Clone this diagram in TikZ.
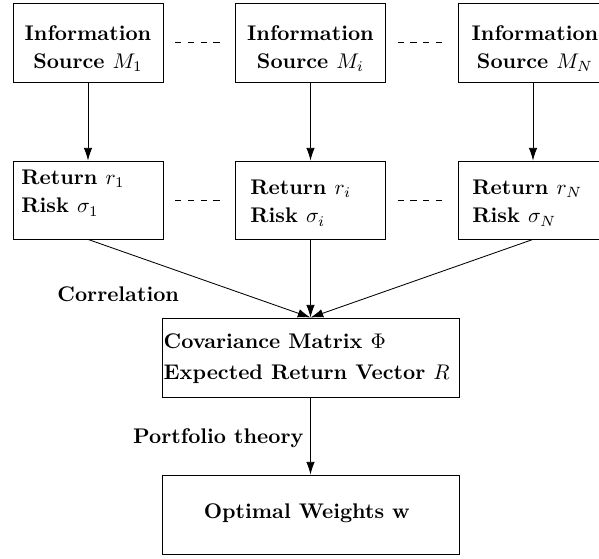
\documentclass[tikz,border=0pt]{standalone}
\usetikzlibrary{arrows.meta}
\begin{document}
\begin{tikzpicture}[x=0.472pt, y=-0.472pt,
  box/.style={draw, line width=0.4pt, minimum width=70.8pt, minimum height=37.3pt, inner sep=0pt},
  widebox/.style={box, minimum width=140.2pt},
  txt/.style={font=\bfseries, inner sep=0pt},
  link/.style={-{Latex[length=6pt,width=4pt]}, line width=0.4pt},
  gap/.style={dashed, line width=0.4pt, shorten <=5.5pt, shorten >=5.5pt}]
\useasboundingbox (0,0) rectangle (599,559);

% information sources
\node[box] (m1) at (88,42.5) {};
\node[box] (m2) at (310.5,42.5) {};
\node[box] (m3) at (533,42.5) {};
\node[txt, align=center] (m1t) at (88,48.5) {Information\\[1pt]Source $M_1$};
\node[txt, align=center] (m2t) at (310.5,48.5) {Information\\[1pt]Source $M_i$};
\node[txt, align=center] (m3t) at (535,48.5) {Information\\[1pt]Source $M_N$};

% return and risk of each source
\node[box, minimum height=36.8pt] (r1) at (88,200) {};
\node[box, minimum height=36.8pt] (r2) at (310.5,200) {};
\node[box, minimum height=36.8pt] (r3) at (533,200) {};
\node[txt, align=left, anchor=west] (r1t) at (21,193) {Return $r_1$\\[1.5pt]Risk $\sigma_1$};
\node[txt, align=left, anchor=west] (r2t) at (250,203) {Return $r_i$\\[1.5pt]Risk $\sigma_i$};
\node[txt, align=left, anchor=west] (r3t) at (472,203) {Return $r_N$\\[1.5pt]Risk $\sigma_N$};

% aggregated statistics and result
\node[widebox] (cov) at (310.5,357.5) {};
\node[txt, align=left, anchor=west] (covt) at (163.3,358.5) {Covariance Matrix $\Phi$\\[2.4pt]Expected Return Vector $R$};
\node[widebox] (opt) at (310.5,514.5) {};
\node[txt] (optt) at (307,513.7) {Optimal Weights $\mathbf{w}$};

% edge labels
\node[txt, anchor=base west] (corr) at (57,301.5) {Correlation};
\node[txt, anchor=base west] (port) at (132.7,443) {Portfolio theory};

% connectors
\draw[link] (m1) -- (r1);
\draw[link] (m2) -- (r2);
\draw[link] (m3) -- (r3);
\draw[link] (r1.south) -- (cov.north);
\draw[link] (r2.south) -- (cov.north);
\draw[link] (r3.south) -- (cov.north);
\draw[link] (cov) -- (opt);
\draw[gap] (m1) -- (m2);
\draw[gap] (m2) -- (m3);
\draw[gap] (r1) -- (r2);
\draw[gap] (r2) -- (r3);
\end{tikzpicture}
\end{document}
